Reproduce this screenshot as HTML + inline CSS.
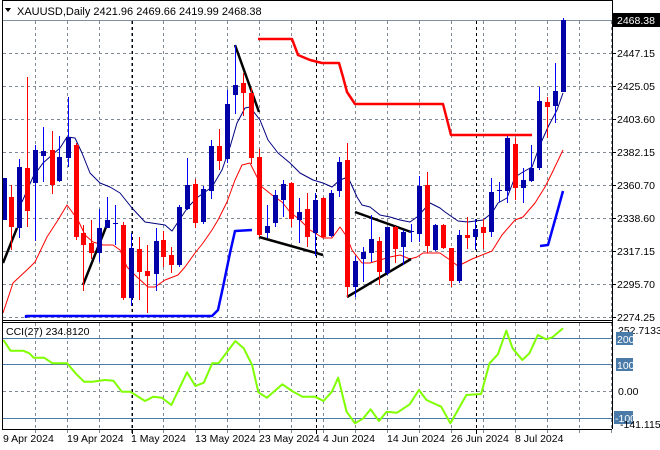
<!DOCTYPE html>
<html><head><meta charset="utf-8"><style>
html,body{margin:0;padding:0;background:#fff;}
svg{display:block;font-family:"Liberation Sans",sans-serif;}
</style></head><body>
<svg id="s" width="660" height="450" xmlns="http://www.w3.org/2000/svg">
<rect x="0" y="0" width="660" height="450" fill="#fff"/>
<g id="grid"></g>
<!-- header -->
<path d="M5,8 L11,8 L8,12 Z" fill="#000"/>
<text x="17" y="15" font-size="11" fill="#000">XAUUSD,Daily  2421.96 2469.66 2419.99 2468.38</text>
<g id="ov"></g>
<g id="cd"></g>
<!-- borders -->
<line x1="2.5" y1="0" x2="2.5" y2="429" stroke="#000"/>
<line x1="612.5" y1="0" x2="612.5" y2="429" stroke="#000"/>
<line x1="2" y1="0.5" x2="612" y2="0.5" stroke="#000"/>
<line x1="2" y1="320.5" x2="612" y2="320.5" stroke="#000"/>
<line x1="2" y1="322.5" x2="612" y2="322.5" stroke="#000"/>
<line x1="2" y1="429.5" x2="612" y2="429.5" stroke="#000"/>
<!-- price axis labels -->
<g font-size="10.5" fill="#000">
<rect x="613" y="13" width="47" height="14" fill="#000"/>
<text x="617" y="24" fill="#fff">2468.38</text>
<text x="617" y="57">2447.15</text>
<text x="617" y="90">2425.05</text>
<text x="617" y="123">2403.60</text>
<text x="617" y="156">2382.15</text>
<text x="617" y="189">2360.70</text>
<text x="617" y="222">2338.60</text>
<text x="617" y="255">2317.15</text>
<text x="617" y="288">2295.70</text>
<text x="617" y="321">2274.25</text>
<text x="618" y="334">252.7133</text>
<rect x="616" y="332" width="17" height="13" fill="#4a7ba8"/>
<text x="617" y="343" fill="#fff">200</text>
<rect x="616" y="358" width="17" height="13" fill="#4a7ba8"/>
<text x="617" y="369" fill="#fff">100</text>
<text x="618" y="395">0.00</text>
<rect x="614" y="411" width="19" height="13" fill="#4a7ba8"/>
<text x="615" y="422" fill="#fff">-100</text>
<text x="620" y="428">-141.115</text>
</g>
<text x="6" y="335" font-size="10.5" fill="#000">CCI(27) 234.8120</text>
<g font-size="10.5" fill="#000">
<text x="3" y="442">9 Apr 2024</text>
<text x="67" y="442">19 Apr 2024</text>
<text x="131" y="442">1 May 2024</text>
<text x="195" y="442">13 May 2024</text>
<text x="259" y="442">23 May 2024</text>
<text x="323" y="442">4 Jun 2024</text>
<text x="387" y="442">14 Jun 2024</text>
<text x="451" y="442">26 Jun 2024</text>
<text x="515" y="442">8 Jul 2024</text>
</g>
</svg>
<script>
var NS="http://www.w3.org/2000/svg";
function el(p,t,a){var e=document.createElementNS(NS,t);for(var k in a)e.setAttribute(k,a[k]);p.appendChild(e);return e;}
var g=document.getElementById('grid'),ov=document.getElementById('ov'),cd=document.getElementById('cd');
var gc="#7f8a96";
// horizontal grid
[53,86,119,152,185,218,251,284,317].forEach(function(y){el(g,'line',{x1:3,x2:612,y1:y+.5,y2:y+.5,stroke:gc,'stroke-dasharray':'3,3'});el(g,'line',{x1:612,x2:616,y1:y+.5,y2:y+.5,stroke:'#000'});});
el(g,'line',{x1:3,x2:612,y1:20.5,y2:20.5,stroke:'#8090a0'});
// vertical grid
for(var x=35;x<612;x+=32){
 [[21,318],[323,429]].forEach(function(r){el(g,'line',{x1:x+.5,x2:x+.5,y1:r[0],y2:r[1],stroke:gc,'stroke-dasharray':'3,3'});});
 el(g,'line',{x1:x+.5,x2:x+.5,y1:429,y2:433,stroke:gc});
}
[132,316,476].forEach(function(x){[[21,318],[323,429]].forEach(function(r){el(g,'line',{x1:x+.5,x2:x+.5,y1:r[0],y2:r[1],stroke:'#000','stroke-dasharray':'3,3'});});el(g,'line',{x1:x+.5,x2:x+.5,y1:429,y2:434,stroke:'#000'});});
// CCI levels
[338,364,418].forEach(function(y){el(g,'line',{x1:3,x2:612,y1:y+.5,y2:y+.5,stroke:'#4a7ba8'});});
el(g,'line',{x1:3,x2:612,y1:391.5,y2:391.5,stroke:gc,'stroke-dasharray':'3,3'});
function pl(pts,c,w){el(ov,'polyline',{points:pts.map(function(p){return p.join(',')}).join(' '),fill:'none',stroke:c,'stroke-width':w,'stroke-linejoin':'round'});}
// red MA
pl([[3,313],[13,283],[30,267],[35,262],[47,237],[58,220],[67,205],[78,220],[85,235],[93,242],[103,245],[113,245],[120,250],[127,267],[137,277],[148,287],[155,287],[165,280],[178,275],[185,267],[195,253],[203,243],[212,230],[218,220],[227,202],[235,180],[242,165],[250,163],[255,173],[262,187],[272,195],[282,202],[290,212],[300,220],[310,230],[323,238],[332,238],[340,227],[347,237],[352,250],[362,263],[370,263],[380,260],[390,257],[400,255],[410,259],[417,257],[423,253],[440,253],[450,260],[458,266],[472,259],[492,251],[502,235],[515,220],[523,217],[535,203],[545,187],[552,173],[563,150]],'#ff0000',1);
// navy MA
pl([[22,202],[33,177],[43,163],[60,148],[67,137],[75,138],[82,153],[90,173],[100,183],[110,187],[120,193],[132,208],[145,222],[165,225],[172,231],[178,222],[188,207],[198,197],[212,187],[222,170],[230,147],[237,123],[245,108],[250,107],[260,120],[268,140],[278,153],[290,163],[300,173],[313,180],[323,183],[332,187],[340,180],[348,177],[357,197],[362,205],[370,207],[380,215],[390,217],[400,220],[410,222],[417,217],[430,203],[440,208],[445,212],[458,221],[468,222],[483,220],[492,213],[498,203],[507,198],[515,177],[523,172],[532,167],[540,145],[548,127],[557,110],[563,93]],'#000080',1);
// red thick step
pl([[258,39],[292,39],[298,55],[310,60],[322,63],[339,63],[343,77],[347,92],[355,104],[443,104],[451,135],[532,135]],'#ff0000',2.5);
// blue thick step
pl([[26,318],[26,316],[212,316],[218,310],[223,287],[230,253],[235,231],[252,230]],'#0000ff',2.5);
pl([[540,246],[548,245],[555,220],[563,191]],'#0000ff',2.5);
// black trendlines
[[3,263,17,228],[83,285,108,222],[235,45,259,112],[259,237,323,255],[355,212,411,232],[347,297,411,259]].forEach(function(l){el(ov,'line',{x1:l[0],y1:l[1],x2:l[2],y2:l[3],stroke:'#000','stroke-width':2.5});});
// CCI
var cc=[[8,75],[25,107],[55,107],[70,115],[80,128],[105,128],[125,145],[160,145],[180,175],[200,200],[220,200],[250,195],[270,197],[290,230],[310,230],[345,258],[365,245],[385,248],[408,270],[445,172],[465,213],[485,203],[505,145],[520,145],[560,78],[580,100],[600,150],[615,232],[635,248],[672,208],[695,228],[720,245],[750,245],[770,258],[790,230],[805,188],[825,290],[845,325],[865,310],[882,283],[902,318],[920,290],[945,293],[975,268],[997,225],[1015,255],[1050,275],[1072,325],[1110,240],[1145,237],[1165,145],[1185,118],[1205,47],[1220,100],[1243,135],[1260,115],[1280,60],[1300,73],[1315,67],[1340,40]];
pl(cc.map(function(p){return [(p[0]/2.38).toFixed(1),(315+p[1]/3).toFixed(1)];}),'#7fff00',2);
// candles [x,high,bodyTop,bodyBot,low,bull]
var C=[[4,178,178,220,220,1],[11,185,197,227,250,0],[19,159,167,228,238,1],[27,77,168,211,227,0],[35,145,150,183,241,1],[43,127,151,156,182,1],[52,131,150,185,194,0],[59,136,157,181,182,1],[68,97,137,158,167,1],[76,143,145,237,240,0],[83,225,233,245,291,0],[91,220,243,253,259,0],[99,209,228,253,262,1],[107,197,220,228,228,1],[115,205,223,224,245,1],[123,222,225,298,300,0],[131,233,248,298,306,1],[139,237,249,272,300,0],[147,245,271,276,313,0],[156,228,241,274,291,1],[163,231,240,257,267,0],[171,247,255,265,273,0],[179,205,207,265,267,1],[187,158,185,209,210,1],[195,179,184,223,228,0],[203,186,189,222,224,1],[211,140,146,191,199,1],[219,129,146,161,170,0],[227,90,104,159,163,1],[235,45,85,95,114,1],[243,73,83,93,116,0],[251,88,93,158,164,0],[259,149,157,235,237,0],[267,205,226,233,238,1],[275,190,195,223,227,1],[283,180,184,200,217,1],[291,182,183,219,227,0],[299,198,212,220,243,1],[307,193,209,237,247,0],[315,193,200,233,256,1],[323,197,198,237,238,0],[331,190,193,236,237,1],[339,157,162,191,197,1],[347,143,160,287,297,0],[355,256,261,287,297,1],[363,247,252,259,282,1],[371,215,239,253,262,1],[379,237,241,272,285,0],[387,227,227,273,275,1],[395,226,227,249,263,0],[403,230,232,247,265,1],[411,224,231,232,242,1],[419,176,186,234,242,1],[427,172,185,246,253,0],[435,224,225,250,251,1],[443,224,225,248,249,0],[451,248,248,281,287,0],[459,230,235,281,283,1],[467,217,235,238,249,0],[475,219,229,237,250,1],[483,219,227,233,249,0],[491,178,192,232,237,1],[499,182,190,191,202,1],[507,136,138,191,203,1],[515,138,144,188,200,0],[523,168,180,188,203,1],[531,145,168,181,182,1],[539,87,101,168,170,1],[547,97,102,107,138,0],[555,63,91,106,123,1],[563,18,20,92,92,1]];
C.forEach(function(c){var col=c[5]?'#0000b4':'#ff0000';if(c[5])col='#0000b0';
 el(cd,'line',{x1:c[0]+.5,x2:c[0]+.5,y1:c[1],y2:c[4],stroke:c[5]?'#0000ff':'#ff0000'});
 var h=Math.max(1,c[3]-c[2]);el(cd,'rect',{x:c[0]-2,y:c[2],width:5,height:h,fill:c[5]?'#0000a8':'#ff0000'});});
</script>
</body></html>
